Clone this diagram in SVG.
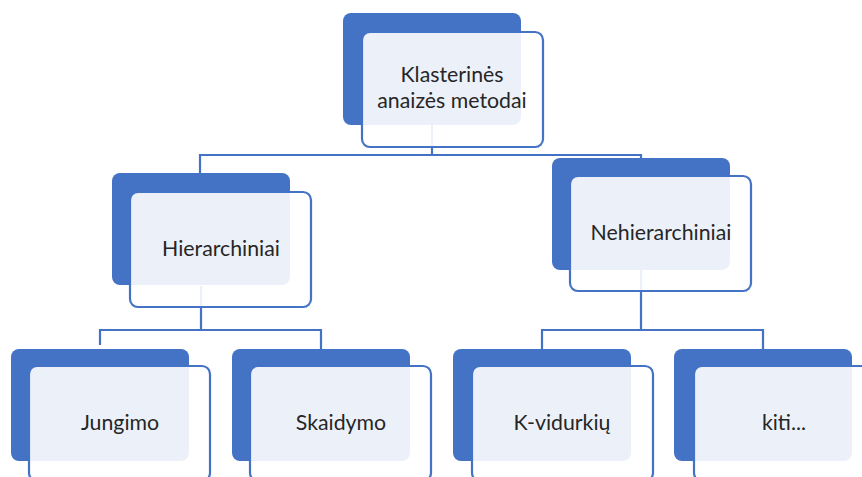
<svg xmlns="http://www.w3.org/2000/svg" width="862" height="477" viewBox="0 0 862 477">
<style>
.back{fill:#4472C4}
.front{fill:#ffffff;fill-opacity:0.9;stroke:#4472C4;stroke-width:2.2}
.lbl{font-family:Lato,"Open Sans","Liberation Sans",sans-serif;font-size:21.3px;fill:#262626;text-anchor:middle}
.conn{fill:none;stroke:#4472C4;stroke-width:2.2}
</style>
<rect width="862" height="477" fill="#ffffff"/>
<g id="connectors">
<path class="conn" d="M432,125 V155 M200,173 V155 H641 V158"/>
<path class="conn" d="M201,286 V330 M100,345 V330 H321 V349"/>
<path class="conn" d="M641,270 V330 M542,349 V330 H763 V349"/>
</g>
<g id="node-top">
<rect class="back" x="343" y="13" width="178" height="112" rx="8"/>
<rect class="front" x="362" y="32" width="181" height="115" rx="8"/>
<text class="lbl" x="452" y="82">Klasterinės</text>
<text class="lbl" x="452" y="108">anaizės metodai</text>
</g>
<g id="node-hier">
<rect class="back" x="112" y="173" width="178" height="112" rx="8"/>
<rect class="front" x="130" y="192" width="181" height="115" rx="8"/>
<text class="lbl" x="221" y="256">Hierarchiniai</text>
</g>
<g id="node-nehier">
<rect class="back" x="552" y="158" width="178" height="112" rx="8"/>
<rect class="front" x="570" y="176" width="181" height="115" rx="8"/>
<text class="lbl" x="661" y="240">Nehierarchiniai</text>
</g>
<g id="node-jungimo">
<rect class="back" x="11" y="349" width="178" height="112" rx="8"/>
<rect class="front" x="29" y="366" width="181" height="115" rx="8"/>
<text class="lbl" x="120" y="430">Jungimo</text>
</g>
<g id="node-skaidymo">
<rect class="back" x="232" y="349" width="178" height="112" rx="8"/>
<rect class="front" x="250" y="366" width="181" height="115" rx="8"/>
<text class="lbl" x="341" y="430">Skaidymo</text>
</g>
<g id="node-kvid">
<rect class="back" x="453" y="349" width="178" height="112" rx="8"/>
<rect class="front" x="472" y="366" width="181" height="115" rx="8"/>
<text class="lbl" x="562" y="430">K-vidurkių</text>
</g>
<g id="node-kiti">
<rect class="back" x="674" y="349" width="178" height="112" rx="8"/>
<rect class="front" x="694" y="366" width="181" height="115" rx="8"/>
<text class="lbl" x="784" y="430">kiti...</text>
</g>
</svg>
